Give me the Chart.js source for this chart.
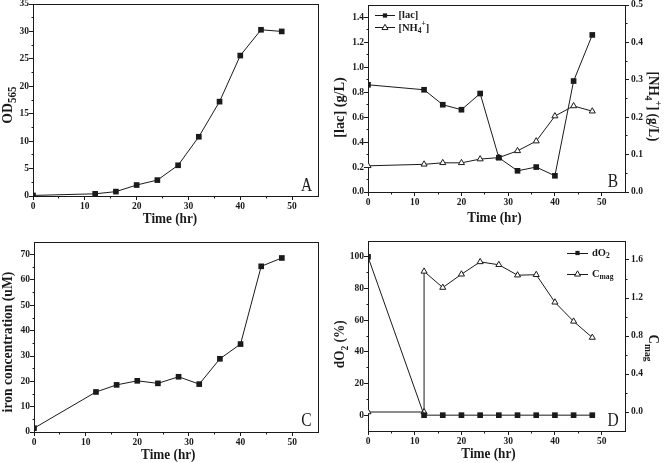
<!DOCTYPE html>
<html><head><meta charset="utf-8">
<script src="https://cdn.jsdelivr.net/npm/chart.js@4/dist/chart.umd.min.js"></script>
<style>
html,body{margin:0;padding:0;background:#fff}
body{width:664px;height:463px;position:relative;overflow:hidden}
canvas{position:absolute;display:block}
</style></head><body>
<canvas id="cA" width="332" height="231" style="left:0;top:0"></canvas>
<canvas id="cB" width="332" height="231" style="left:332px;top:0"></canvas>
<canvas id="cC" width="332" height="232" style="left:0;top:231px"></canvas>
<canvas id="cD" width="332" height="232" style="left:332px;top:231px"></canvas>
<script>
// ---------------- data ----------------
const timeHr = [0, 12, 16, 20, 24, 28, 32, 36, 40, 44, 48];
const od565 = [0.1, 0.4, 0.8, 2.0, 2.9, 5.6, 10.8, 17.2, 25.6, 30.3, 30.0];
const lac = [0.86, 0.82, 0.70, 0.66, 0.79, 0.275, 0.17, 0.20, 0.13, 0.89, 1.26];
const nh4 = [0.070, 0.074, 0.078, 0.078, 0.088, 0.092, 0.110, 0.136, 0.203, 0.230, 0.216];
const iron = [1.5, 15.8, 18.6, 20.2, 19.2, 21.8, 18.9, 28.9, 34.7, 65.4, 68.7];
const dO2 = [100, 0, 0, 0, 0, 0, 0, 0, 0, 0, 0];
const timeCmag = [0, 12, 12, 16, 20, 24, 28, 32, 36, 40, 44, 48];
const cmag = [0, 0, 1.48, 1.31, 1.45, 1.58, 1.55, 1.44, 1.445, 1.155, 0.954, 0.784];

const timeTicks = [0, 10, 20, 30, 40, 50];
const odTicks = [0, 5, 10, 15, 20, 25, 30, 35];
const lacTicks = [0, 0.2, 0.4, 0.6, 0.8, 1.0, 1.2, 1.4];
const nh4Ticks = [0, 0.1, 0.2, 0.3, 0.4, 0.5];
const ironTicks = [0, 10, 20, 30, 40, 50, 60, 70];
const dO2Ticks = [0, 20, 40, 60, 80, 100];
const cmagTicks = [0, 0.4, 0.8, 1.2, 1.6];

// ---------------- helpers ----------------
const FONT = "'Liberation Serif','Times New Roman',serif";
const INK = '#1a1a1a';
const xy = (xs, ys) => xs.map((x, i) => ({x: x, y: ys[i]}));

function parseRich(s) {
  const out = []; const re = /([_^])\{([^}]*)\}/g; let last = 0, m;
  while ((m = re.exec(s))) {
    if (m.index > last) out.push({t: s.slice(last, m.index), m: 0});
    out.push({t: m[2], m: m[1] === '_' ? 1 : 2});
    last = re.lastIndex;
  }
  if (last < s.length) out.push({t: s.slice(last), m: 0});
  return out;
}
function drawRich(ctx, s, x, y, o) {
  const size = o.size, weight = o.weight || 'bold', sub = o.sub || 0.72, sx = o.sx || 1;
  const parts = parseRich(s);
  const fontOf = (m) => weight + ' ' + (m ? size * sub : size) + 'px ' + FONT;
  let w = 0; const widths = [];
  parts.forEach(p => { ctx.font = fontOf(p.m); const pw = ctx.measureText(p.t).width; widths.push(pw); w += pw; });
  ctx.save(); ctx.translate(x, y); ctx.rotate(o.rot || 0); ctx.scale(sx, 1);
  ctx.fillStyle = INK; ctx.textBaseline = 'middle'; ctx.textAlign = 'left';
  let cx = o.align === 'left' ? 0 : -w / 2;
  parts.forEach((p, i) => {
    ctx.font = fontOf(p.m);
    const dy = p.m === 1 ? size * 0.3 : (p.m === 2 ? -size * 0.38 : 0);
    ctx.fillText(p.t, cx, dy); cx += widths[i];
  });
  ctx.restore();
}
function marker(ctx, style, r, cx, cy) {
  ctx.save(); ctx.lineWidth = 1; ctx.strokeStyle = INK;
  if (style === 'rect') {
    const h = r * Math.SQRT1_2; ctx.fillStyle = INK; ctx.fillRect(cx - h, cy - h, 2 * h, 2 * h);
  } else {
    ctx.fillStyle = '#fff'; ctx.beginPath();
    for (let k = 0; k < 3; k++) { const a = k * 2 * Math.PI / 3; ctx.lineTo(cx + Math.sin(a) * r, cy - Math.cos(a) * r); }
    ctx.closePath(); ctx.fill(); ctx.stroke();
  }
  ctx.restore();
}
const al = (v) => Math.round(v - 0.5) + 0.5;

function axis(pos, min, max, ticks, dec, size, pad) {
  return {
    type: 'linear', position: pos, min: min, max: max,
    afterBuildTicks: (s) => { s.ticks = ticks.map(v => ({value: v})); },
    afterFit: (s) => {
      if (pos === 'bottom') s.height = size; else s.width = size;
      s.paddingTop = 0; s.paddingBottom = 0; s.paddingLeft = 0; s.paddingRight = 0;
    },
    grid: {drawOnChartArea: false, drawTicks: true, tickLength: 4, tickColor: INK, tickWidth: 1, color: INK},
    border: {display: false},
    ticks: {font: {family: FONT, size: 9.5, weight: 'bold', lineHeight: 1.2}, color: INK, padding: pad,
      maxRotation: 0, autoSkip: false, callback: (v) => Number(v).toFixed(dec)},
    title: {display: false}
  };
}

function panel(id, p) {
  const cv = document.getElementById(id);
  const W = cv.width, H = cv.height, a = p.area;
  const scales = {
    x: axis('bottom', 0, 55, timeTicks, 0, H - a.b, 0.6),
    y: axis('left', p.y.min, p.y.max, p.y.ticks, p.y.dec, a.l, 0)
  };
  if (p.y2) scales.y2 = axis('right', p.y2.min, p.y2.max, p.y2.ticks, p.y2.dec, W - a.r, 2);
  const deco = {
    id: 'deco',
    beforeDatasetsDraw(c) {
      const ctx = c.ctx, ca = c.chartArea;
      ctx.save(); ctx.strokeStyle = INK; ctx.lineWidth = 1;
      ctx.strokeRect(al(ca.left), al(ca.top), al(ca.right) - al(ca.left), al(ca.bottom) - al(ca.top));
      const minor = (sc, step, side) => {
        if (!sc) return;
        ctx.beginPath();
        for (let v = sc.min + step; v < sc.max - 1e-9; v += step) {
          if (sc.ticks.some(t => Math.abs(t.value - v) < 1e-9)) continue;
          const px = al(sc.getPixelForValue(v));
          if (side === 'b') { ctx.moveTo(px, al(ca.bottom)); ctx.lineTo(px, al(ca.bottom) + 2); }
          if (side === 'l') { ctx.moveTo(al(ca.left), px); ctx.lineTo(al(ca.left) - 2, px); }
          if (side === 'r') { ctx.moveTo(al(ca.right), px); ctx.lineTo(al(ca.right) + 2, px); }
        }
        ctx.stroke();
      };
      minor(c.scales.x, 5, 'b');
      minor(c.scales.y, p.y.minor, 'l');
      if (p.y2) minor(c.scales.y2, p.y2.minor, 'r');
      ctx.restore();
    },
    afterDraw(c) {
      const ctx = c.ctx;
      p.titles.forEach(t => drawRich(ctx, t.text, t.x, t.y, {size: 15, sx: t.sx || 0.88, rot: t.rot, sub: t.sub}));
      drawRich(ctx, p.letter.t, p.letter.x, p.letter.y, {size: 18, weight: 'normal', sx: 0.86});
      if (p.legend) {
        const L = p.legend;
        c.data.datasets.forEach((d, i) => {
          const yy = L.y + i * L.dy;
          ctx.save(); ctx.strokeStyle = INK; ctx.lineWidth = 1; ctx.beginPath();
          ctx.moveTo(L.x, al(yy)); ctx.lineTo(L.x + L.len, al(yy)); ctx.stroke(); ctx.restore();
          marker(ctx, d.pointStyle, d.pointStyle === 'rect' ? 3 : 3.5, L.x + L.len / 2, yy);
          drawRich(ctx, d.label, L.tx, yy, {size: 10.5, align: 'left'});
        });
      }
    }
  };
  return new Chart(cv, {
    type: 'line',
    data: {datasets: p.datasets},
    options: {
      responsive: false, animation: false, devicePixelRatio: 1, events: [],
      layout: {padding: {left: 0, top: a.t, right: p.y2 ? 0 : W - a.r, bottom: 0}},
      plugins: {legend: {display: false}, tooltip: {enabled: false}},
      scales: scales
    },
    plugins: [deco]
  });
}

function ds(label, data, style, axisId) {
  return {
    label: label, data: data, yAxisID: axisId, xAxisID: 'x',
    borderColor: INK, borderWidth: 1, tension: 0, fill: false,
    pointStyle: style, pointRadius: style === 'rect' ? 4 : 3.5,
    pointBackgroundColor: style === 'rect' ? INK : '#fff',
    pointBorderColor: INK, pointBorderWidth: style === 'rect' ? 0 : 1
  };
}

// ---------------- panels ----------------
panel('cA', {
  area: {l: 33, t: 4, r: 318, b: 196},
  y: {min: 0, max: 35, ticks: odTicks, dec: 0, minor: 2.5},
  datasets: [ds('OD_{565}', xy(timeHr, od565), 'rect', 'y')],
  titles: [
    {text: 'Time (hr)', x: 170, y: 219.3, rot: 0},
    {text: 'OD_{565}', x: 8.5, y: 105, rot: -Math.PI / 2, sub: 0.8, sx: 0.92}
  ],
  letter: {t: 'A', x: 306.5, y: 186.5}
});

panel('cB', {
  area: {l: 36, t: 4, r: 293, b: 192},
  y: {min: 0, max: 1.5, ticks: lacTicks, dec: 1, minor: 0.1},
  y2: {min: 0, max: 0.5, ticks: nh4Ticks, dec: 1, minor: 0.05},
  datasets: [
    ds('[lac]', xy(timeHr, lac), 'rect', 'y'),
    ds('[NH_{4}^{+}]', xy(timeHr, nh4), 'triangle', 'y2')
  ],
  titles: [
    {text: 'Time (hr)', x: 162.5, y: 217.7, rot: 0},
    {text: '[lac] (g/L)', x: 8.5, y: 107.5, rot: -Math.PI / 2, sx: 0.95},
    {text: '[NH_{4}^{+}] (g/L)', x: 320.5, y: 106.5, rot: Math.PI / 2}
  ],
  letter: {t: 'B', x: 281, y: 182.5},
  legend: {x: 43, len: 20, tx: 66.5, y: 15.5, dy: 12.3}
});

panel('cC', {
  area: {l: 34, t: 11, r: 318, b: 201},
  y: {min: 0, max: 75, ticks: ironTicks, dec: 0, minor: 5},
  datasets: [ds('iron', xy(timeHr, iron), 'rect', 'y')],
  titles: [
    {text: 'Time (hr)', x: 168.3, y: 224.5, rot: 0},
    {text: 'iron concentration (uM)', x: 8.5, y: 111, rot: -Math.PI / 2, sx: 0.91}
  ],
  letter: {t: 'C', x: 306.5, y: 190.5}
});

panel('cD', {
  area: {l: 36, t: 10, r: 293, b: 200},
  y: {min: -10, max: 110, ticks: dO2Ticks, dec: 0, minor: 10},
  y2: {min: -0.2, max: 1.8, ticks: cmagTicks, dec: 1, minor: 0.2},
  datasets: [
    ds('dO_{2}', xy(timeHr, dO2), 'rect', 'y'),
    ds('C_{mag}', xy(timeCmag, cmag), 'triangle', 'y2')
  ],
  titles: [
    {text: 'Time (hr)', x: 156.5, y: 223.3, rot: 0},
    {text: 'dO_{2} (%)', x: 8.5, y: 113.3, rot: -Math.PI / 2},
    {text: 'C_{mag}', x: 320.5, y: 117, rot: Math.PI / 2}
  ],
  letter: {t: 'D', x: 281, y: 190},
  legend: {x: 235, len: 21, tx: 260, y: 22, dy: 21.3}
});
</script>
</body></html>
